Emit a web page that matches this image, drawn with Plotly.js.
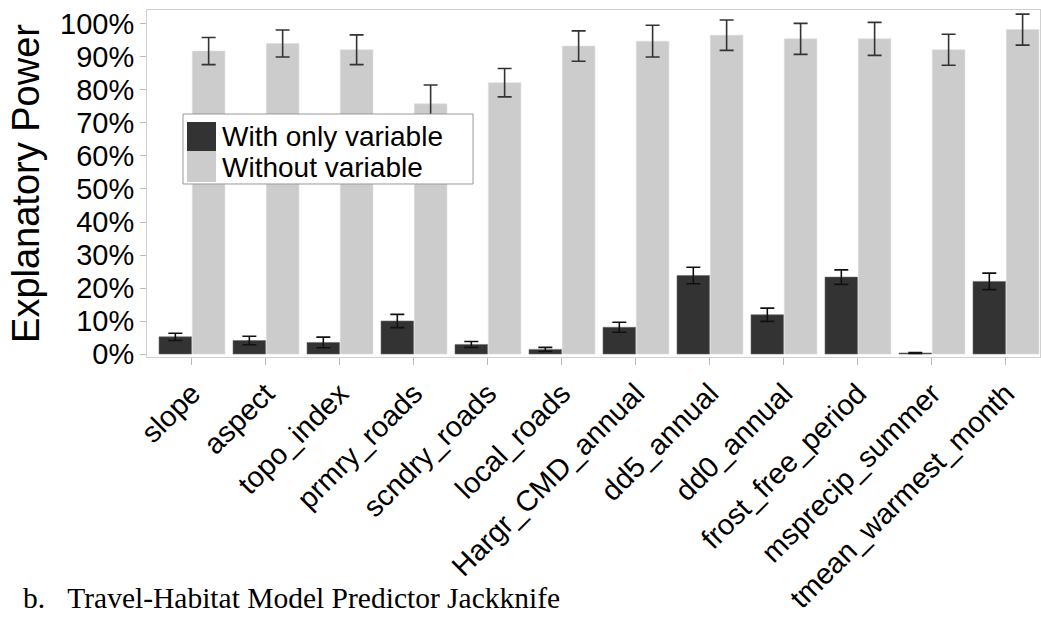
<!DOCTYPE html>
<html>
<head>
<meta charset="utf-8">
<script src="https://cdn.plot.ly/plotly-3.0.1.min.js"></script>
<style>html,body{margin:0;padding:0;background:#fff;}#chart{width:1041px;height:618px;}</style>
</head>
<body>
<div id="chart"></div>
<script>
const categories = ["slope","aspect","topo_index","prmry_roads","scndry_roads","local_roads","Hargr_CMD_annual","dd5_annual","dd0_annual","frost_free_period","msprecip_summer","tmean_warmest_month"];
const withOnly = [0.052,0.041,0.035,0.100,0.029,0.014,0.081,0.238,0.119,0.233,0.003,0.220];
const withOnlyErr = [0.011,0.013,0.016,0.020,0.009,0.006,0.015,0.025,0.020,0.022,0.0015,0.025];
const withoutVar = [0.918,0.941,0.922,0.758,0.822,0.933,0.948,0.966,0.955,0.955,0.922,0.983];
const withoutVarErr = [0.041,0.041,0.045,0.057,0.043,0.046,0.048,0.046,0.047,0.050,0.047,0.047];
const seriesNames = ["With only variable","Without variable"];
const seriesColors = ["#333333","#cccccc"];

const traces = [
  {type:'bar', name:seriesNames[0], x:categories, y:withOnly, showlegend:false,
   marker:{color:seriesColors[0], line:{color:'#6a6a6a', width:0.6}},
   error_y:{type:'data', array:withOnlyErr, visible:true, color:'#111', thickness:1.6, width:7}},
  {type:'bar', name:seriesNames[1], x:categories, y:withoutVar, showlegend:false,
   marker:{color:seriesColors[1], line:{color:'#dedede', width:0.6}},
   error_y:{type:'data', array:withoutVarErr, visible:true, color:'#333', thickness:1.6, width:7}}
];

// legend drawn as a box with swatches and labels (paper coordinates)
const legendFont = {family:'"Liberation Sans", Arial, sans-serif', size:28, color:'#000'};
const shapes = [
  {type:'rect', xref:'paper', yref:'paper', x0:0.0403, x1:0.3651, y0:0.4986, y1:0.7003,
   fillcolor:'#fff', line:{color:'#999', width:1}, layer:'above'},
  {type:'rect', xref:'paper', yref:'paper', x0:0.0448, x1:0.0773, y0:0.5937, y1:0.6772,
   fillcolor:seriesColors[0], line:{width:0}, layer:'above'},
  {type:'rect', xref:'paper', yref:'paper', x0:0.0448, x1:0.0773, y0:0.5043, y1:0.5937,
   fillcolor:seriesColors[1], line:{width:0}, layer:'above'}
];
const annotations = [
  {xref:'paper', yref:'paper', x:0.0817, y:0.6354, xanchor:'left', yanchor:'middle', showarrow:false,
   text:seriesNames[0], font:legendFont},
  {xref:'paper', yref:'paper', x:0.0817, y:0.5447, xanchor:'left', yanchor:'middle', showarrow:false,
   text:seriesNames[1], font:legendFont},
  {xref:'paper', yref:'paper', x:-0.141, y:-0.695, xanchor:'left', yanchor:'middle', showarrow:false,
   text:'b.\u00A0\u00A0\u00A0Travel-Habitat Model Predictor Jackknife',
   font:{family:'"Liberation Serif", "Times New Roman", serif', size:29.5, color:'#000'}}
];

const layout = {
  width:1041, height:618,
  margin:{l:147, r:1, t:10, b:261},
  paper_bgcolor:'#fff', plot_bgcolor:'#fff',
  font:{family:'"Liberation Sans", Arial, sans-serif', color:'#000'},
  barmode:'group', bargap:0.1, bargroupgap:0.02,
  showlegend:false,
  xaxis:{type:'category', range:[-0.608,11.46], showgrid:false, zeroline:false,
         showline:true, linecolor:'#d0d0d0', linewidth:1, mirror:true,
         ticks:'outside', ticklen:7, tickcolor:'#bbb', tickwidth:1,
         tickangle:-45, tickfont:{size:29, color:'#000'}},
  yaxis:{range:[-0.0091,1.0424], tickformat:'.0%', dtick:0.1, tick0:0,
         showgrid:false, zeroline:false, showline:true, linecolor:'#d0d0d0', linewidth:1, mirror:true,
         ticks:'outside', ticklen:6, tickcolor:'#bbb', tickwidth:1,
         tickfont:{size:29, color:'#000'},
         title:{text:'Explanatory Power', font:{size:38, color:'#000'}, standoff:8}},
  shapes:shapes,
  annotations:annotations
};

Plotly.newPlot('chart', traces, layout, {displayModeBar:false, staticPlot:true});
</script>
</body>
</html>
